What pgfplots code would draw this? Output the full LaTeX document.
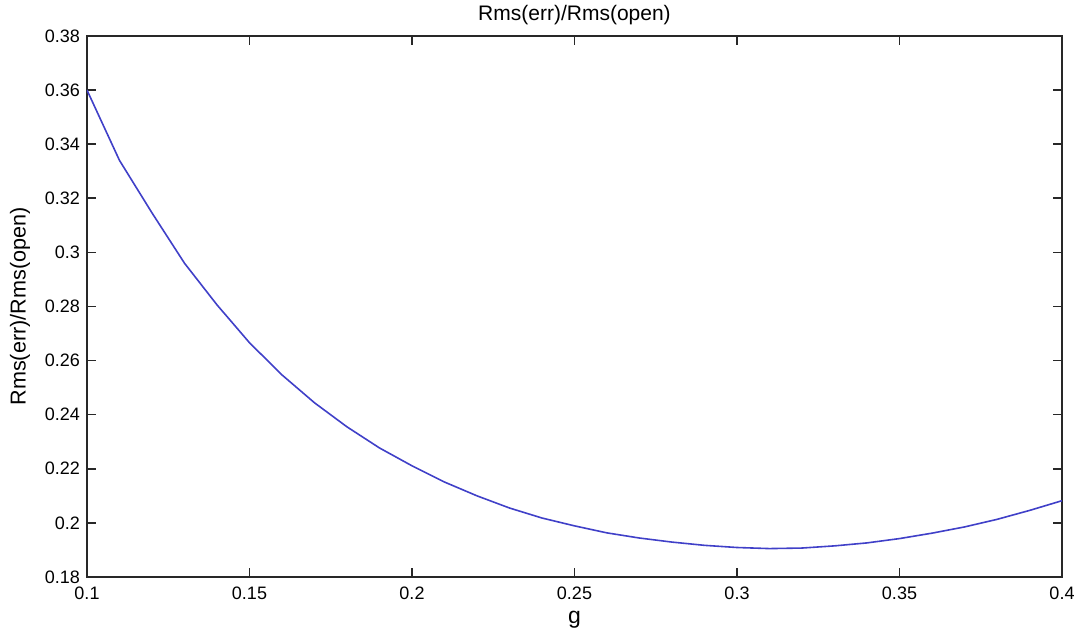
\documentclass[border=0pt]{standalone}
\usepackage{pgfplots}
\pgfplotsset{compat=1.18}
\usepackage{fontspec}
\setmainfont{Liberation Sans}
\definecolor{lineblue}{RGB}{64,64,200}
\definecolor{axgray}{RGB}{40,40,40}
\begin{document}
\begin{tikzpicture}
\begin{axis}[
  scale only axis,
  width=487.5pt, height=270.5pt,
  xmin=0.1, xmax=0.4, ymin=0.18, ymax=0.38,
  xtick={0.1,0.15,0.2,0.25,0.3,0.35,0.4},
  ytick={0.18,0.2,0.22,0.24,0.26,0.28,0.3,0.32,0.34,0.36,0.38},
  xticklabels={0.1,0.15,0.2,0.25,0.3,0.35,0.4},
  yticklabels={0.18,0.2,0.22,0.24,0.26,0.28,0.3,0.32,0.34,0.36,0.38},
  tick align=inside,
  major tick length=4.5pt,
  axis line style={axgray, line width=0.8pt},
  every tick/.style={axgray, line width=0.8pt},
  tick label style={font=\fontsize{9}{10.8}\selectfont},
  xticklabel style={yshift=-1.5pt},
  yticklabel style={xshift=0pt},
  title={Rms(err)/Rms(open)},
  title style={font=\fontsize{10.5}{12.6}\selectfont, yshift=-4pt},
  xlabel={g},
  xlabel style={font=\fontsize{11.5}{13.8}\selectfont, yshift=1pt},
  ylabel={Rms(err)/Rms(open)},
  ylabel style={font=\fontsize{10.8}{13}\selectfont, yshift=0.5pt},
]
\addplot[lineblue, line width=0.8pt] coordinates {
(0.10,0.3600) (0.11,0.3340) (0.12,0.3146) (0.13,0.2960) (0.14,0.2806)
(0.15,0.2666) (0.16,0.2547) (0.17,0.2444) (0.18,0.2355) (0.19,0.2277)
(0.20,0.2211) (0.21,0.2151) (0.22,0.2100) (0.23,0.2055) (0.24,0.2018)
(0.25,0.1989) (0.26,0.1963) (0.27,0.1944) (0.28,0.1929) (0.29,0.1917)
(0.30,0.1909) (0.31,0.1905) (0.32,0.1907) (0.33,0.1915) (0.34,0.1926)
(0.35,0.1942) (0.36,0.1962) (0.37,0.1985) (0.38,0.2013) (0.39,0.2046)
(0.40,0.2082)
};
\end{axis}
\pgfresetboundingbox
\path[use as bounding box] ([xshift=-43.5pt,yshift=-26pt]current axis.south west) rectangle ([xshift=7.5pt,yshift=18pt]current axis.north east);
\end{tikzpicture}
\end{document}
